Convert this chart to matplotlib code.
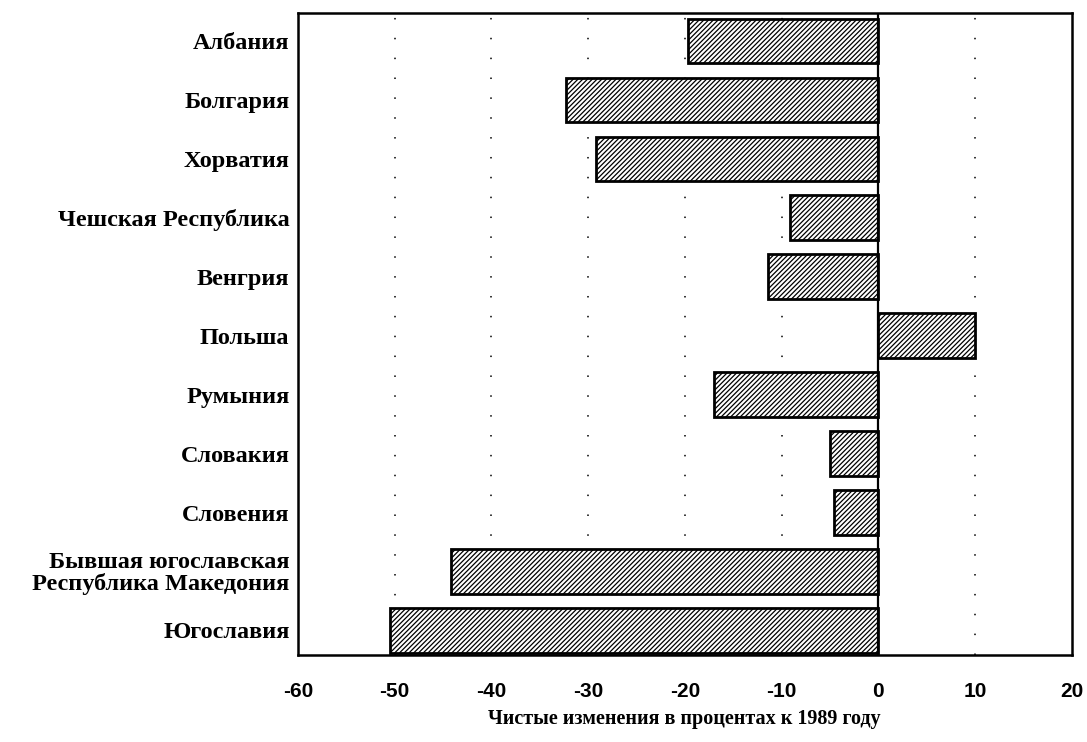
import matplotlib
matplotlib.use("Agg")
import matplotlib.pyplot as plt

categories = ["Албания", "Болгария", "Хорватия", "Чешская Республика", "Венгрия",
              "Польша", "Румыния", "Словакия", "Словения",
              "Бывшая югославская\nРеспублика Македония", "Югославия"]
values = [-19.7, -32.3, -29.2, -9.1, -11.4, 10.0, -17.0, -5.0, -4.6, -44.2, -50.5]
xticks = [-60, -50, -40, -30, -20, -10, 0, 10, 20]
grid_x = [-50, -40, -30, -20, -10, 10]
xlabel = "Чистые изменения в процентах к 1989 году"

plt.rcParams['hatch.linewidth'] = 0.9
fig = plt.figure(figsize=(10.87, 7.42), dpi=100)
ax = fig.add_axes([0.274, 0.117, 0.712, 0.865])

for gx in grid_x:
    ax.axvline(gx, color="black", linestyle=(0, (1, 12)), linewidth=1.1, zorder=0)
ax.axvline(0, color="black", linewidth=1.6, zorder=3)

ypos = list(range(len(categories)))
ax.barh(ypos, values, height=0.76, color="white", edgecolor="black",
        linewidth=2.0, hatch="///////", zorder=2)

ax.set_xlim(-60, 20)
ax.set_ylim(10.42, -0.47)
ax.set_xticks(xticks)
ax.set_xticklabels([str(t) for t in xticks], fontfamily="Liberation Sans",
                   fontweight="bold", fontsize=15)
ax.set_yticks(ypos)
ax.set_yticklabels(categories, fontfamily="Liberation Serif", fontweight="bold",
                   fontsize=17.5, linespacing=1.0)
ax.tick_params(axis="both", length=0)
ax.tick_params(axis="x", pad=19)
ax.tick_params(axis="y", pad=6)
for s in ax.spines.values():
    s.set_linewidth(1.8)
ax.set_xlabel(xlabel, fontfamily="Liberation Serif", fontweight="bold",
              fontsize=14.5, labelpad=6)

fig.savefig("out.png", dpi=100)
